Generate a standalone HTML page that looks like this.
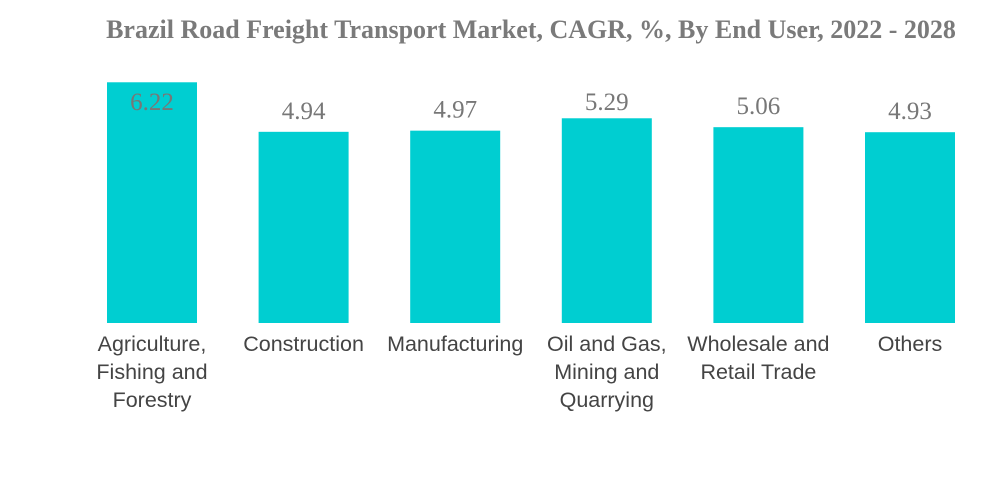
<!DOCTYPE html>
<html><head><meta charset="utf-8"><style>
body{margin:0;background:#fff;width:1000px;height:483px;overflow:hidden}
svg{display:block}
</style></head><body>
<svg id="chart" width="1000" height="483" xmlns="http://www.w3.org/2000/svg">
<text x="531" y="38" text-anchor="middle" font-family="Liberation Serif, serif" font-weight="bold" font-size="26" fill="#7a7a7a">Brazil Road Freight Transport Market, CAGR, %, By End User, 2022 - 2028</text>
<g id="bars"></g>
</svg>
<script>
const categories=[["Agriculture,","Fishing and","Forestry"],["Construction"],["Manufacturing"],["Oil and Gas,","Mining and","Quarrying"],["Wholesale and","Retail Trade"],["Others"]];
const values=[6.22,4.94,4.97,5.29,5.06,4.93];
const labels=["6.22","4.94","4.97","5.29","5.06","4.93"];
const ns="http://www.w3.org/2000/svg";
const g=document.getElementById("bars");
const baseY=323,scale=38.7,x0=152,step=151.6,bw=90;
function xc(i){return x0+i*step;}
function y(v){return baseY-v*scale;}
values.forEach((v,i)=>{
  const r=document.createElementNS(ns,"rect");
  r.setAttribute("x",xc(i)-bw/2);r.setAttribute("y",y(v));
  r.setAttribute("width",bw);r.setAttribute("height",baseY-y(v));
  r.setAttribute("fill","#00CED1");
  
  
  g.appendChild(r);
  const t=document.createElementNS(ns,"text");
  t.setAttribute("x",xc(i));t.setAttribute("y",Math.max(y(v)-13,110));
  t.setAttribute("text-anchor","middle");t.setAttribute("font-family","Liberation Serif, serif");
  t.setAttribute("font-size","25");t.setAttribute("fill","#777");
  t.textContent=labels[i];
  
  
  g.appendChild(t);
  categories[i].forEach((line,j)=>{
    const c=document.createElementNS(ns,"text");
    c.setAttribute("x",xc(i));c.setAttribute("y",351+j*28);
    c.setAttribute("text-anchor","middle");c.setAttribute("font-family","Liberation Sans, sans-serif");
    c.setAttribute("font-size","21.5");c.setAttribute("fill","#444");
    c.textContent=line;
    
    
    g.appendChild(c);
  });
});
</script>
</body></html>
